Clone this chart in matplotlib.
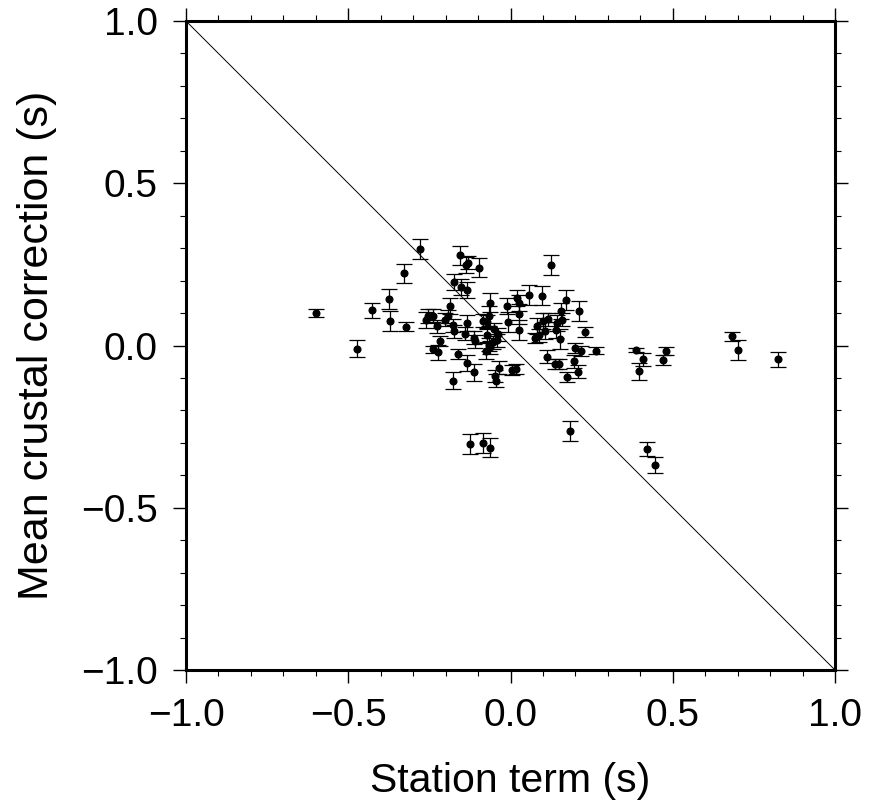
import matplotlib
matplotlib.use("Agg")
import matplotlib.pyplot as plt
from matplotlib.ticker import MultipleLocator, FuncFormatter

plt.rcParams['font.family'] = ['Liberation Sans', 'DejaVu Sans']

# Station terms (s)
station_term = [
    -0.599, -0.279, -0.329, -0.374, -0.426, -0.370, -0.323, -0.473, -0.178, -0.223,
    -0.240, -0.218, -0.227, -0.261, -0.254, -0.240, -0.201, -0.185, -0.193, -0.177,
    -0.175, -0.161, -0.140, -0.134, -0.134, -0.175, -0.153, -0.135, -0.156, -0.137,
    -0.130, -0.097, 0.124, -0.112, -0.110, -0.113, -0.064, -0.066, -0.084, -0.073,
    -0.051, -0.073, -0.040, -0.055, -0.067, -0.063, -0.075, -0.043, -0.034, -0.048,
    -0.045, 0.004, 0.018, -0.012, -0.008, 0.019, 0.025, 0.027, 0.027, 0.056,
    0.098, 0.081, 0.101, 0.117, 0.105, 0.087, 0.075, 0.142, 0.140, 0.155,
    0.160, 0.171, 0.153, 0.212, 0.229, 0.200, 0.217, 0.263, 0.114, 0.136,
    0.149, 0.197, 0.207, 0.174, -0.125, -0.085, -0.064, 0.182, 0.420, 0.445,
    0.386, 0.407, 0.395, 0.480, 0.470, 0.683, 0.700, 0.824,
]

# Mean crustal corrections (s)
crustal_corr = [
    0.100, 0.297, 0.223, 0.143, 0.108, 0.075, 0.058, -0.010, -0.108, -0.021,
    -0.012, 0.014, 0.059, 0.078, 0.092, 0.092, 0.079, 0.122, 0.090, 0.062,
    0.044, -0.027, 0.036, 0.069, -0.054, 0.195, 0.181, 0.171, 0.278, 0.247,
    0.255, 0.240, 0.248, 0.024, 0.013, -0.083, 0.132, 0.091, 0.076, 0.073,
    0.050, 0.031, 0.034, 0.010, 0.002, -0.005, -0.016, 0.016, -0.068, -0.094,
    -0.108, -0.076, -0.072, 0.122, 0.073, 0.147, 0.130, 0.097, 0.048, 0.156,
    0.154, 0.061, 0.076, 0.081, 0.046, 0.031, 0.024, 0.070, 0.047, 0.106,
    0.080, 0.140, 0.020, 0.106, 0.041, -0.007, -0.017, -0.016, -0.035, -0.057,
    -0.058, -0.048, -0.081, -0.096, -0.303, -0.300, -0.315, -0.264, -0.319, -0.368,
    -0.014, -0.043, -0.080, -0.017, -0.045, 0.029, -0.014, -0.043,
]

# Standard error of the crustal correction (s)
corr_err = [
    0.011, 0.030, 0.029, 0.030, 0.024, 0.030, 0.013, 0.026, 0.027, 0.024,
    0.010, 0.015, 0.020, 0.025, 0.022, 0.020, 0.020, 0.025, 0.020, 0.020,
    0.020, 0.015, 0.020, 0.025, 0.025, 0.025, 0.025, 0.025, 0.030, 0.025,
    0.020, 0.030, 0.031, 0.020, 0.020, 0.025, 0.030, 0.030, 0.020, 0.020,
    0.020, 0.020, 0.020, 0.020, 0.020, 0.020, 0.025, 0.020, 0.020, 0.020,
    0.020, 0.015, 0.015, 0.025, 0.030, 0.025, 0.025, 0.030, 0.030, 0.030,
    0.030, 0.025, 0.025, 0.020, 0.025, 0.020, 0.015, 0.025, 0.025, 0.025,
    0.020, 0.030, 0.030, 0.030, 0.015, 0.015, 0.015, 0.010, 0.020, 0.015,
    0.015, 0.020, 0.020, 0.015, 0.030, 0.030, 0.030, 0.030, 0.023, 0.024,
    0.007, 0.020, 0.026, 0.012, 0.016, 0.014, 0.030, 0.023,
]

# One-to-one reference line
ref_x = [-1.0, 1.0]
ref_y = [1.0, -1.0]


def fmt_tick(v, pos):
    return f"{v:.1f}".replace('-', '\u2212')


fig = plt.figure(figsize=(8.69, 8.0), dpi=100)
ax = fig.add_axes([186 / 869, 1 - 670 / 800, 649 / 869, 649 / 800])

ax.plot(ref_x, ref_y, color='black', linewidth=0.7, zorder=2)
ax.errorbar(station_term, crustal_corr, yerr=corr_err, fmt='o', color='black',
            markersize=4.8, ecolor='black', elinewidth=0.9, capsize=5.8,
            capthick=0.9, zorder=3)

ax.set_xlim(-1, 1)
ax.set_ylim(-1, 1)
ax.xaxis.set_major_locator(MultipleLocator(0.5))
ax.xaxis.set_minor_locator(MultipleLocator(0.1))
ax.yaxis.set_major_locator(MultipleLocator(0.5))
ax.yaxis.set_minor_locator(MultipleLocator(0.1))
ax.xaxis.set_major_formatter(FuncFormatter(fmt_tick))
ax.yaxis.set_major_formatter(FuncFormatter(fmt_tick))

ax.tick_params(which='both', direction='out', top=True, right=True,
               labelsize=28, color='black')
ax.tick_params(which='major', length=9.5, width=1.0, pad=11)
ax.tick_params(which='minor', length=4.5, width=0.8)

for sp in ax.spines.values():
    sp.set_linewidth(2.2)

ax.set_xlabel('Station term (s)', fontsize=29.5, labelpad=20)
ax.set_ylabel('Mean crustal correction (s)', fontsize=31, labelpad=17)

fig.savefig('out.png', dpi=100)
